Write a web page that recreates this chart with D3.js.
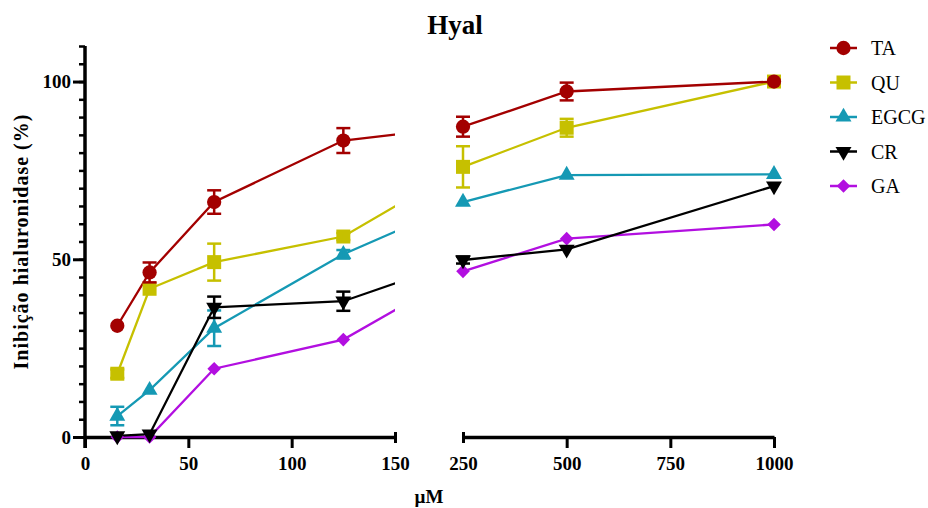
<!DOCTYPE html>
<html>
<head>
<meta charset="utf-8">
<script src="https://cdn.jsdelivr.net/npm/d3@7"></script>
<style>
  body { margin: 0; background: #fff; }
  text { font-family: "Liberation Serif", "Times New Roman", serif; }
</style>
</head>
<body>
<svg id="svg" width="928" height="508"></svg>
<script>
    // concentrações (µM)
    var conc = [15.625, 31.25, 62.5, 125, 250, 500, 1000];
    var seriesNames = ['TA', 'QU', 'EGCG', 'CR', 'GA'];
    var TA = [31.3, 46.3, 66.1, 83.4, 87.3, 97.2, 100];
    var TA_err = [0, 2.8, 3.3, 3.5, 2.8, 2.5, 0];
    var QU = [17.8, 41.7, 49.2, 56.4, 76.0, 87.0, 100];
    var QU_err = [1.2, 0, 5.2, 1, 5.8, 2.5, 0];
    var EGCG = [5.9, 13.2, 30.6, 51.4, 66.1, 73.7, 73.9];
    var EGCG_err = [2.6, 0, 5.0, 1.2, 0, 0, 0];
    var CR = [0.3, 0.8, 36.5, 38.2, 49.8, 52.8, 70.6];
    var CR_err = [0, 0, 3.0, 2.7, 1.0, 0, 0];
    var GA = [0, 0, 19.2, 27.4, 46.6, 55.8, 59.8];
    var GA_err = [0, 0, 0, 0, 0, 0, 0];
    var leftTicks = [0, 50, 100, 150];
    var rightTicks = [250, 500, 750, 1000];
    var yTicks = [0, 50, 100];

    var values = {TA: TA, QU: QU, EGCG: EGCG, CR: CR, GA: GA};
    var errors = {TA: TA_err, QU: QU_err, EGCG: EGCG_err, CR: CR_err, GA: GA_err};
    var colors = {TA: '#a30000', QU: '#c6c000', EGCG: '#1599b4', CR: '#000000', GA: '#b20fe0'};
    var shapes = {
        TA: {type: d3.symbolCircle, size: 160, rot: 0},
        QU: {type: d3.symbolSquare, size: 196, rot: 0},
        EGCG: {type: d3.symbolTriangle, size: 110, rot: 0},
        CR: {type: d3.symbolTriangle, size: 110, rot: 180},
        GA: {type: d3.symbolSquare, size: 92, rot: 45}
    };

    var svg = d3.select("#svg");

    // escalas: eixo quebrado
    var xLeft = d3.scaleLinear().domain([0, 150]).range([85, 395]);
    var xRight = d3.scaleLinear().domain([250, 1000]).range([463, 774]);
    var x = d3.scaleLinear().domain([0, 150, 250, 1000]).range([85, 395, 463, 774]);
    var y = d3.scaleLinear().domain([0, 110]).range([437, 46]);

    var defs = svg.append("defs");
    var clip = defs.append("clipPath").attr("id", "gap");
    clip.append("rect").attr("x", 0).attr("y", 0).attr("width", 395).attr("height", 508);
    clip.append("rect").attr("x", 463).attr("y", 0).attr("width", 465).attr("height", 508);

    // título
    svg.append("text")
        .attr("x", 455).attr("y", 34)
        .attr("text-anchor", "middle")
        .style("font-size", "27px").style("font-weight", "bold")
        .text("Hyal");

    // eixo Y
    var yMinor = svg.append("g").attr("transform", "translate(85,0)")
        .call(d3.axisLeft(y).tickValues(d3.range(0, 111, 5)).tickSize(6).tickFormat("").tickSizeOuter(0));
    yMinor.select(".domain").remove();
    yMinor.selectAll("line").attr("stroke-width", 2.5);
    var yAxis = svg.append("g").attr("transform", "translate(85,0)")
        .call(d3.axisLeft(y).tickValues(yTicks).tickSize(12).tickSizeOuter(0).tickPadding(2));
    yAxis.select(".domain").remove();
    yAxis.selectAll("line").attr("stroke-width", 3);
    yAxis.selectAll("text")
        .style("font-family", "Liberation Serif").style("font-size", "19px").style("font-weight", "bold");
    svg.append("line")
        .attr("x1", 85).attr("x2", 85).attr("y1", y(110)).attr("y2", 448)
        .attr("stroke", "#000").attr("stroke-width", 3.5);

    svg.append("text")
        .attr("transform", "translate(28," + 242 + ") rotate(-90)")
        .attr("text-anchor", "middle")
        .attr("textLength", 255).attr("lengthAdjust", "spacing")
        .style("font-size", "20px").style("font-weight", "bold")
        .text("Inibição hialuronidase (%)");

    // eixos X
    function drawX(scale, ticks, endVal) {
        var g = svg.append("g").attr("transform", "translate(0,437)")
            .call(d3.axisBottom(scale).tickValues(ticks).tickFormat(d3.format("d"))
                .tickSize(11).tickSizeOuter(0).tickPadding(9));
        g.select(".domain").attr("stroke-width", 3.5);
        g.selectAll("line").attr("stroke-width", 3);
        g.selectAll(".tick").filter(function (d) { return d === endVal; })
            .select("line").attr("y1", -5).attr("y2", 6);
        g.selectAll("text")
            .style("font-family", "Liberation Serif").style("font-size", "19px").style("font-weight", "bold");
        return g;
    }
    drawX(xLeft, leftTicks, 150);
    drawX(xRight, rightTicks, 250);

    svg.append("text")
        .attr("x", 429).attr("y", 503)
        .attr("text-anchor", "middle")
        .style("font-size", "19px").style("font-weight", "bold")
        .text("µM");

    // linhas
    var line = d3.line()
        .x(function (d) { return x(d[0]); })
        .y(function (d) { return y(d[1]); });

    var drawOrder = ['GA', 'EGCG', 'CR', 'QU', 'TA'];
    var lines = svg.append("g").attr("clip-path", "url(#gap)");
    drawOrder.forEach(function (k) {
        lines.append("path")
            .datum(conc.map(function (c, i) { return [c, values[k][i]]; }))
            .attr("fill", "none")
            .attr("stroke", colors[k])
            .attr("stroke-width", 2.3)
            .attr("d", line);
    });

    // marcadores e barras de erro
    drawOrder.forEach(function (k) {
        var g = svg.append("g");
        var pts = conc.map(function (c, i) { return {c: c, v: values[k][i], e: errors[k][i]}; });
        g.selectAll("path.mk").data(pts).enter().append("path")
            .attr("class", "mk")
            .attr("d", d3.symbol().type(shapes[k].type).size(shapes[k].size))
            .attr("fill", colors[k])
            .attr("transform", function (d) {
                return "translate(" + x(d.c) + "," + y(d.v) + ") rotate(" + shapes[k].rot + ")";
            });
        var eb = g.selectAll("g.err").data(pts.filter(function (d) { return d.e > 0; }))
            .enter().append("g").attr("class", "err")
            .attr("stroke", colors[k]).attr("stroke-width", 2.5);
        eb.append("line")
            .attr("x1", function (d) { return x(d.c); }).attr("x2", function (d) { return x(d.c); })
            .attr("y1", function (d) { return y(d.v + d.e); }).attr("y2", function (d) { return y(d.v - d.e); });
        [1, -1].forEach(function (s) {
            eb.append("line")
                .attr("x1", function (d) { return x(d.c) - 7; }).attr("x2", function (d) { return x(d.c) + 7; })
                .attr("y1", function (d) { return y(d.v + s * d.e); }).attr("y2", function (d) { return y(d.v + s * d.e); });
        });
    });

    // legenda
    var legend = svg.append("g").attr("transform", "translate(830,48)");
    var item = legend.selectAll("g").data(seriesNames).enter().append("g")
        .attr("transform", function (d, i) { return "translate(0," + (i * 34.5) + ")"; });
    item.append("line")
        .attr("x1", 0).attr("x2", 27)
        .attr("stroke", function (d) { return colors[d]; })
        .attr("stroke-width", 2.5);
    item.append("path")
        .attr("d", function (d) { return d3.symbol().type(shapes[d].type).size(shapes[d].size)(); })
        .attr("fill", function (d) { return colors[d]; })
        .attr("transform", function (d) { return "translate(13.5,0) rotate(" + shapes[d].rot + ")"; });
    item.append("text")
        .attr("x", 41).attr("dy", "0.35em")
        .style("font-size", "20px")
        .text(function (d) { return d; });
</script>
</body>
</html>
